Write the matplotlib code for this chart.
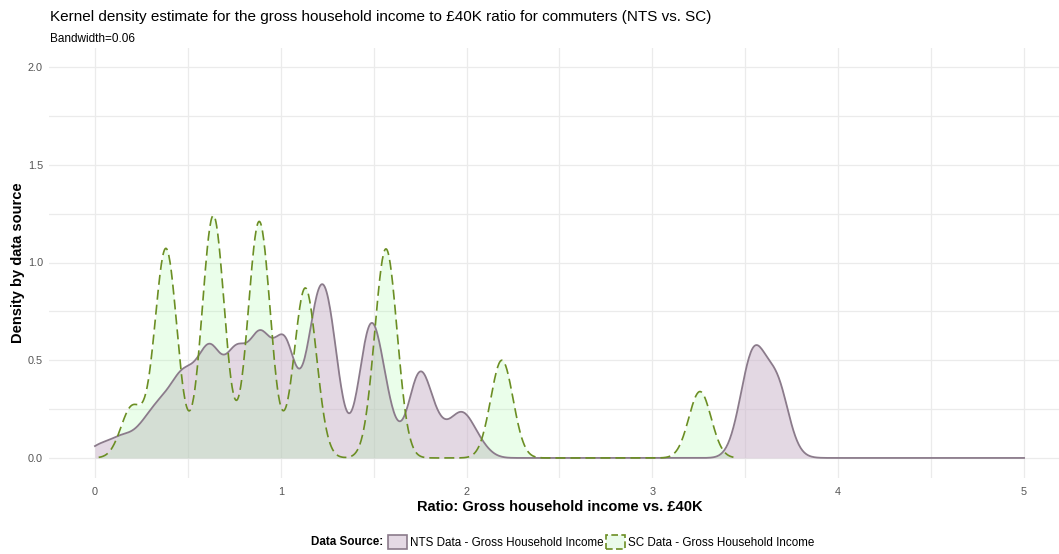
import numpy as np
import matplotlib
matplotlib.use("Agg")
import matplotlib.pyplot as plt
from matplotlib.patches import Patch

plt.rcParams['font.family'] = ['Liberation Sans', 'DejaVu Sans']

BW = 0.06  # kernel bandwidth

# NTS: households per 1000 at each income-to-£40K ratio
nts_ratio = np.array([0.00, 0.04, 0.06, 0.14, 0.16, 0.26, 0.28, 0.36,
                      0.46, 0.48, 0.54, 0.62, 0.64, 0.74, 0.76, 0.78,
                      0.88, 0.90, 1.02, 1.04, 1.18, 1.20, 1.26, 1.46,
                      1.48, 1.56, 1.74, 1.76, 1.84, 1.86, 1.96, 1.98,
                      2.06, 3.48, 3.50, 3.54, 3.56, 3.66, 3.68, 3.76])
nts_per_1000 = np.array([3.6, 5.2, 1.1, 8.3, 5.7, 11.4, 8.5, 30.0,
                         44.6, 0.4, 31.1, 49.5, 19.4, 29.7, 16.1, 30.5,
                         39.8, 43.7, 74.7, 9.2, 59.9, 21.1, 81.6, 9.6,
                         81.0, 30.7, 40.2, 22.8, 7.6, 9.0, 13.9, 16.5,
                         9.4, 1.3, 26.9, 2.2, 58.0, 23.2, 30.7, 1.9])

# SC: commuters per 1000 in each income band (band ratio)
sc_ratio = np.array([0.20, 0.382, 0.637, 0.884, 1.132, 1.566, 2.19, 3.256])
sc_per_1000 = np.array([39.1, 160.9, 186.5, 182.0, 130.8, 160.9, 75.2, 51.1])

x_limits = (0, 5)
x_ticks = [0, 1, 2, 3, 4, 5]
y_ticks = [0.0, 0.5, 1.0, 1.5, 2.0]


def kde(grid, ratios, per_1000):
    z = (grid[:, None] - ratios[None, :]) / BW
    dens = np.exp(-0.5 * z ** 2) / (BW * np.sqrt(2 * np.pi))
    return dens @ (per_1000 / 1000.0)


nts_x = np.linspace(x_limits[0], x_limits[1], 1024)
nts_y = kde(nts_x, nts_ratio, nts_per_1000)
sc_x = np.linspace(max(sc_ratio.min() - 3 * BW, x_limits[0]), sc_ratio.max() + 3 * BW, 1024)
sc_y = kde(sc_x, sc_ratio, sc_per_1000)

nts_line, nts_fill = '#8b7b8b', '#c9b2c9'
sc_line, sc_fill = '#6b8e23', '#98fb98'
dash = (0, (6, 3))

W, H = 1059, 554
fig = plt.figure(figsize=(W / 100, H / 100), dpi=100)
ax = fig.add_axes([48.5 / W, 76.5 / H, 1022 / W, 430 / H])

ax.fill_between(nts_x, nts_y, color=nts_fill, alpha=0.5, lw=0)
ax.plot(nts_x, nts_y, color=nts_line, lw=1.3)
ax.fill_between(sc_x, sc_y, color=sc_fill, alpha=0.2, lw=0)
ax.plot(sc_x, sc_y, color=sc_line, lw=1.2, ls=dash)

ax.set_xlim(-0.25, 5.25)
ax.set_ylim(-0.1, 2.1)
ax.set_xticks(x_ticks)
ax.set_xticks(np.arange(0.5, 5, 1), minor=True)
ax.set_yticks(y_ticks)
ax.set_yticklabels(['%.1f' % v for v in y_ticks])
ax.set_yticks(np.arange(0.25, 2, 0.5), minor=True)
ax.grid(True, which='both', color='#ebebeb', lw=0.9)
ax.set_axisbelow(True)
for s in ax.spines.values():
    s.set_visible(False)
ax.tick_params(which='both', length=0, labelsize=7.8, labelcolor='#555555')
ax.tick_params(axis='x', pad=7)
ax.tick_params(axis='y', pad=4)

ax.set_xlabel('Ratio: Gross household income vs. £40K', fontsize=10.5, fontweight='bold', labelpad=2)
ax.set_ylabel('Density by data source', fontsize=10.5, fontweight='bold', labelpad=2)

fig.text(50 / W, 1 - 17 / H, 'Kernel density estimate for the gross household income to £40K ratio '
         'for commuters (NTS vs. SC)', fontsize=11, va='center', ha='left')
fig.text(50 / W, 1 - 39 / H, 'Bandwidth=0.06', fontsize=8.5, va='center', ha='left')

handles = [Patch(facecolor='#e4d9e4', edgecolor=nts_line, lw=1.2),
           Patch(facecolor='#eafbea', edgecolor=sc_line, lw=1.2, ls=(0, (4, 2)))]
labels = ['NTS Data - Gross Household Income', 'SC Data - Gross Household Income']
fig.text(383 / W, 1 - 542 / H, 'Data Source:', fontsize=8.4, fontweight='bold', ha='right', va='center')
fig.legend(handles, labels, loc='center left', bbox_to_anchor=(388 / W, 1 - 542 / H), ncol=2,
           frameon=False, fontsize=8.4, handlelength=1.6, handleheight=1.6, handletextpad=0.3,
           columnspacing=0.2, borderpad=0, borderaxespad=0)

fig.savefig('out.png', dpi=100)
